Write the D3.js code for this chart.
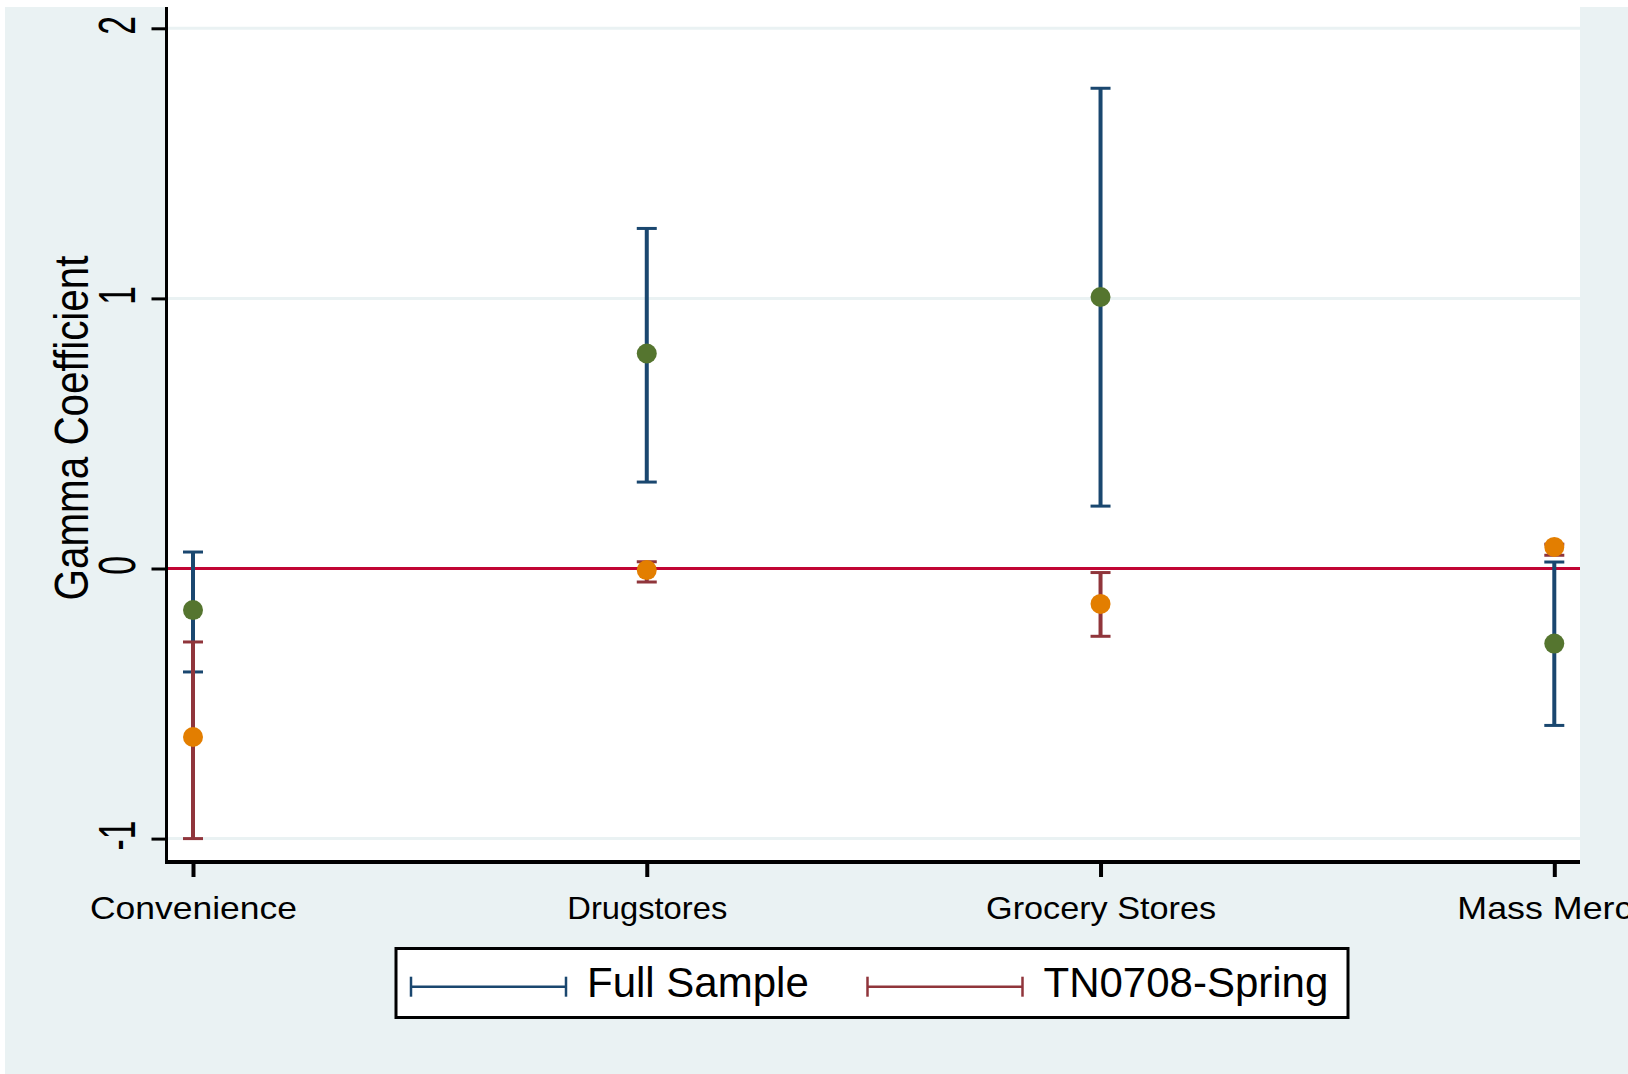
<!DOCTYPE html>
<html>
<head>
<meta charset="utf-8">
<script src="https://cdn.jsdelivr.net/npm/d3@7"></script>
<style>
  body { margin: 0; background: #fff; }
  text { font-family: "Liberation Sans", Arial, sans-serif; }
</style>
</head>
<body>
<div id="chart"></div>
<script>
// data
const categories = ["Convenience", "Drugstores", "Grocery Stores", "Mass Merch"];
const fullEst = [-0.154, 0.796, 1.005, -0.278];
const fullLo  = [-0.383, 0.320, 0.231, -0.581];
const fullHi  = [0.061, 1.259, 1.778, 0.024];
const tnEst = [-0.624, -0.006, -0.131, 0.080];
const tnLo  = [-1.000, -0.050, -0.251, 0.049];
const tnHi  = [-0.272, 0.025, -0.015, 0.090];
const yTicks = [-1, 0, 1, 2];
const seriesNames = ["Full Sample", "TN0708-Spring"];

// layout / style
const W = 1628, H = 1074;
const bg = "#eaf2f3";
const labelWidths = [207, 160, 230, 195];

const series = [
  { name: seriesNames[0], est: fullEst, lo: fullLo, hi: fullHi, bar: "#1a476f", dot: "#55752f" },
  { name: seriesNames[1], est: tnEst, lo: tnLo, hi: tnHi, bar: "#90353b", dot: "#e37e00" }
];

const svg = d3.select("#chart").append("svg")
  .attr("width", W)
  .attr("height", H);

svg.append("rect").attr("x", 5).attr("y", 7).attr("width", W - 5).attr("height", H - 7).attr("fill", bg);

const plotL = 168, plotR = 1580, plotT = 7, plotB = 860;
svg.append("rect").attr("x", plotL).attr("y", plotT)
  .attr("width", plotR - plotL).attr("height", plotB - plotT).attr("fill", "#fff");

const x = d3.scalePoint().domain(categories).range([193, 1554.3]);
const y = d3.scaleLinear().domain([-1, 2]).range([838.6, 28.3]);

// gridlines
svg.append("g").selectAll("line")
  .data(yTicks.filter(d => d !== 0))
  .join("line")
  .attr("x1", plotL).attr("x2", plotR)
  .attr("y1", d => y(d)).attr("y2", d => y(d))
  .attr("stroke", bg).attr("stroke-width", 3);

// zero line
svg.append("line")
  .attr("x1", plotL).attr("x2", plotR)
  .attr("y1", y(0)).attr("y2", y(0))
  .attr("stroke", "#c10534").attr("stroke-width", 3);

// error bars
series.forEach(s => {
  const g = svg.append("g");
  categories.forEach((c, i) => {
    const cx = x(c);
    g.append("line")
      .attr("x1", cx).attr("x2", cx)
      .attr("y1", y(s.lo[i])).attr("y2", y(s.hi[i]))
      .attr("stroke", s.bar).attr("stroke-width", 4);
    [s.lo[i], s.hi[i]].forEach(v => {
      g.append("line")
        .attr("x1", cx - 10).attr("x2", cx + 10)
        .attr("y1", y(v)).attr("y2", y(v))
        .attr("stroke", s.bar).attr("stroke-width", 3);
    });
  });
});

// markers
series.forEach(s => {
  svg.append("g").selectAll("circle")
    .data(categories)
    .join("circle")
    .attr("cx", d => x(d))
    .attr("cy", (d, i) => y(s.est[i]))
    .attr("r", 10)
    .attr("fill", s.dot);
});

// y axis
const yAxis = svg.append("g")
  .attr("transform", "translate(166.5,0)")
  .call(d3.axisLeft(y).tickValues(yTicks).tickSize(15).tickSizeOuter(0).tickFormat(d3.format("d")));
yAxis.select(".domain").remove();
yAxis.selectAll(".tick line").attr("stroke", "#000").attr("stroke-width", 3);
yAxis.selectAll(".tick text")
  .attr("x", null).attr("dy", null)
  .attr("text-anchor", "middle")
  .attr("font-size", 51)
  .attr("fill", "#000")
  .attr("transform", "translate(-31.5,-3.5) rotate(-90) scale(0.66,1)")
  .text(d => d < 0 ? "-" + Math.abs(d) : d);

svg.append("line")
  .attr("x1", 166.5).attr("x2", 166.5).attr("y1", plotT).attr("y2", 864)
  .attr("stroke", "#000").attr("stroke-width", 3);

// x axis
const xAxis = svg.append("g")
  .attr("transform", "translate(0,862)")
  .call(d3.axisBottom(x).tickSize(15).tickSizeOuter(0));
xAxis.select(".domain").remove();
xAxis.selectAll(".tick line").attr("stroke", "#000").attr("stroke-width", 4);
xAxis.selectAll(".tick text")
  .attr("y", 57.3).attr("dy", null)
  .attr("font-size", 31.5)
  .attr("fill", "#000")
  .attr("textLength", (d, i) => labelWidths[i])
  .attr("lengthAdjust", "spacingAndGlyphs");

svg.append("line")
  .attr("x1", 165).attr("x2", plotR).attr("y1", 862).attr("y2", 862)
  .attr("stroke", "#000").attr("stroke-width", 4);

// y title
svg.append("text")
  .attr("transform", "translate(88,428) rotate(-90)")
  .attr("text-anchor", "middle")
  .attr("font-size", 48.5)
  .attr("textLength", 345)
  .attr("lengthAdjust", "spacingAndGlyphs")
  .text("Gamma Coefficient");

// legend
const leg = svg.append("g");
leg.append("rect")
  .attr("x", 396).attr("y", 948.5).attr("width", 952).attr("height", 69)
  .attr("fill", "#fff").attr("stroke", "#000").attr("stroke-width", 3);

const legX = [411, 867.5];
series.forEach((s, i) => {
  const x0 = legX[i], x1 = x0 + 155, ly = 986.7;
  leg.append("line").attr("x1", x0).attr("x2", x1).attr("y1", ly).attr("y2", ly)
    .attr("stroke", s.bar).attr("stroke-width", 2.5);
  [x0, x1].forEach(xx => {
    leg.append("line").attr("x1", xx).attr("x2", xx).attr("y1", ly - 10).attr("y2", ly + 10)
      .attr("stroke", s.bar).attr("stroke-width", 2.5);
  });
  leg.append("text")
    .attr("x", x1 + 21).attr("y", 996.7)
    .attr("font-size", 42)
    .attr("fill", "#000")
    .text(s.name);
});
</script>
</body>
</html>
